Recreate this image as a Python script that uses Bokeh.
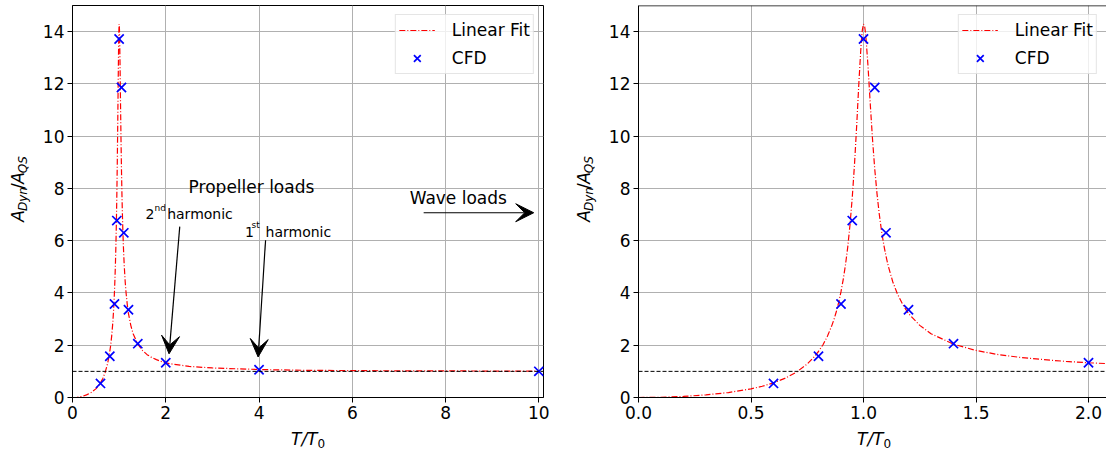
from bokeh.plotting import figure
from bokeh.models import Range1d, FixedTicker, Label, Span, Arrow, VeeHead, NumeralTickFormatter
from bokeh.layouts import row, column
from bokeh.embed import file_html
from bokeh.resources import INLINE

# ---------------- data ----------------
fit_x = [0.0, 0.1, 0.2, 0.3, 0.4, 0.5, 0.55, 0.6, 0.65, 0.7, 0.75, 0.78, 0.8, 0.82, 0.84,
         0.86, 0.87, 0.88, 0.89, 0.9, 0.91, 0.92, 0.93, 0.94, 0.95, 0.96, 0.97, 0.98, 0.99,
         0.995, 1.0, 1.005, 1.01, 1.02, 1.03, 1.04, 1.05, 1.06, 1.07, 1.08, 1.09, 1.1, 1.11,
         1.13, 1.15, 1.175, 1.2, 1.25, 1.3, 1.4, 1.5, 1.6, 1.7, 1.8, 1.9, 2.0, 2.1, 2.5, 3.0,
         4.0, 5.0, 6.0, 7.0, 8.0, 9.0, 10.0]
fit_y = [0.0, 0.01, 0.04, 0.10, 0.19, 0.33, 0.43, 0.56, 0.73, 0.96, 1.28, 1.55, 1.76, 2.02, 2.35,
         2.77, 3.02, 3.31, 3.65, 4.05, 4.52, 5.08, 5.76, 6.61, 7.65, 8.92, 10.45, 12.13, 13.60,
         14.07, 14.29, 14.21, 13.88, 12.69, 11.24, 9.89, 8.74, 7.80, 7.02, 6.38, 5.85, 5.41, 5.03,
         4.43, 3.98, 3.55, 3.21, 2.76, 2.44, 2.04, 1.80, 1.64, 1.53, 1.45, 1.38, 1.33, 1.29, 1.19, 1.13,
         1.07, 1.04, 1.03, 1.02, 1.02, 1.01, 1.01]
cfd_x = [0.6, 0.8, 0.9, 0.95, 1.0, 1.05, 1.1, 1.2, 1.4, 2.0, 4.0, 10.0]
cfd_y = [0.54, 1.58, 3.58, 6.77, 13.72, 11.86, 6.30, 3.36, 2.06, 1.33, 1.06, 1.00]
quasi_static_level = 1.0

y_ticks = [0, 2, 4, 6, 8, 10, 12, 14]
left_x_ticks = [0, 2, 4, 6, 8, 10]
right_x_ticks = [0.0, 0.5, 1.0, 1.5, 2.0]

FONT = "DejaVu Sans"
Y_END = 15.0
ROW_H = 428      # top border 5 + frame 392 + bottom border 31
XLAB_H = 28


def make_fig(width, border_left, border_right, x_end, x_ticks, fmt):
    p = figure(width=width, height=ROW_H, x_range=Range1d(0, x_end), y_range=Range1d(0, Y_END),
               output_backend="svg", toolbar_location=None,
               min_border_left=border_left, min_border_right=border_right,
               min_border_top=5, min_border_bottom=31)
    p.background_fill_color = "white"
    p.border_fill_color = "white"
    p.outline_line_color = "black"
    p.outline_line_width = 1
    p.xaxis.ticker = FixedTicker(ticks=x_ticks)
    p.yaxis.ticker = FixedTicker(ticks=y_ticks)
    if fmt:
        p.xaxis.formatter = NumeralTickFormatter(format=fmt)
    for ax in (p.xaxis, p.yaxis):
        ax.axis_line_color = "black"
        ax.axis_line_width = 1
        ax.major_tick_line_color = "black"
        ax.major_tick_out = 5
        ax.major_tick_in = 0
        ax.minor_tick_line_color = None
        ax.major_label_text_font = FONT
        ax.major_label_text_font_size = "17px"
        ax.major_label_text_color = "black"
        ax.major_label_standoff = 3
    p.xgrid.ticker = FixedTicker(ticks=x_ticks)
    p.ygrid.ticker = FixedTicker(ticks=y_ticks)
    for g in (p.xgrid, p.ygrid):
        g.grid_line_color = "#b0b0b0"
        g.grid_line_width = 1

    p.line(fit_x, fit_y, line_color="red", line_dash="6 2 1 2", line_width=1.2,
           legend_label="Linear Fit")
    p.scatter(cfd_x, cfd_y, marker="x", size=13, line_color="blue", line_width=1.7,
              legend_label="CFD")
    p.add_layout(Span(location=quasi_static_level, dimension="width", line_color="black",
                      line_dash="4 2", line_width=1))

    lg = p.legend[0]
    lg.location = "top_right"
    lg.label_text_font = FONT
    lg.label_text_font_size = "17px"
    lg.label_text_color = "black"
    lg.border_line_color = "#cccccc"
    lg.border_line_width = 1
    lg.background_fill_alpha = 0.8
    lg.padding = 3
    lg.spacing = 4
    lg.margin = 9
    lg.glyph_width = 36
    lg.glyph_height = 24
    lg.label_height = 24
    lg.label_standoff = 17
    return p


def strip(w, h):
    f = figure(width=w, height=h, x_range=Range1d(0, w), y_range=Range1d(0, h),
               output_backend="svg", toolbar_location=None, min_border=0,
               x_axis_type=None, y_axis_type=None)
    f.outline_line_color = None
    f.background_fill_color = "white"
    f.border_fill_color = "white"
    return f


def y_label(f, base_x):
    # A_Dyn / A_QS, rotated, reading bottom-to-top; base_x = screen x of main baseline
    pieces = [("A", 17, 0.0, "italic", False), ("Dyn", 12, 11.6, "italic", True),
              ("/", 17, 35.6, "normal", False), ("A", 17, 41.3, "italic", False),
              ("QS", 12, 52.9, "italic", True)]
    y0 = ROW_H - 201 - 35
    for txt, size, off, style, sub in pieces:
        bx = base_x + 3 - 0.33 * size if sub else base_x - 0.33 * size
        f.add_layout(Label(x=bx, y=y0 + off, text=txt, angle=1.5707963,
                           text_font=FONT, text_font_size=f"{size}px", text_font_style=style,
                           text_align="left", text_baseline="alphabetic", text_color="black"))


def x_label(f, start_x):
    f.add_layout(Label(x=start_x, y=12 + 0.33 * 17, text="T/T", text_font=FONT, text_font_size="17px",
                       text_font_style="italic", text_align="left", text_baseline="alphabetic",
                       text_color="black"))
    f.add_layout(Label(x=start_x + 26.5, y=9 + 0.33 * 12, text="0", text_font=FONT,
                       text_font_size="12px", text_align="left", text_baseline="alphabetic",
                       text_color="black"))


# left panel (frame 72..543)
p1 = make_fig(526, 38, 17, 10.1, left_x_ticks, None)


def txt(p, x, y, s, size):
    p.add_layout(Label(x=x, y=y, y_offset=round(0.33 * size), text=s, text_font=FONT,
                       text_font_size=f"{size}px", text_align="left",
                       text_baseline="alphabetic", text_color="black"))


txt(p1, 2.49, 7.83, "Propeller loads", 17)
txt(p1, 7.23, 7.40, "Wave loads", 17)
txt(p1, 1.567, 6.83, "2", 14)
txt(p1, 1.76, 7.13, "nd", 9)
txt(p1, 2.03, 6.83, "harmonic", 14)
txt(p1, 3.70, 6.15, "1", 14)
txt(p1, 3.84, 6.48, "st", 9)
txt(p1, 4.14, 6.15, "harmonic", 14)

for xs, ys, xe, ye in [(2.30, 6.54, 2.07, 1.67), (4.14, 6.02, 3.98, 1.55), (7.53, 7.07, 9.89, 7.07)]:
    p1.add_layout(Arrow(end=VeeHead(size=18, fill_color="black", line_color="black", line_width=1),
                        x_start=xs, y_start=ys, x_end=xe, y_end=ye,
                        line_color="black", line_width=1.2))

# right panel (frame 638..1106)
p2 = make_fig(506, 38, 0, 468 / 225, right_x_ticks, "0.0")
p2.outline_line_color = None
p2.add_layout(Span(location=Y_END, dimension="width", line_color="black", line_width=1.5))

ylab1 = strip(34, ROW_H)
y_label(ylab1, 23.3)
ylab2 = strip(40, ROW_H)
y_label(ylab2, 29.5)
xlab = strip(1106, XLAB_H)
x_label(xlab, 290.5)
x_label(xlab, 856.5)

layout = column(row(ylab1, p1, ylab2, p2), xlab)
open("out.html", "w").write(file_html(layout, INLINE))
